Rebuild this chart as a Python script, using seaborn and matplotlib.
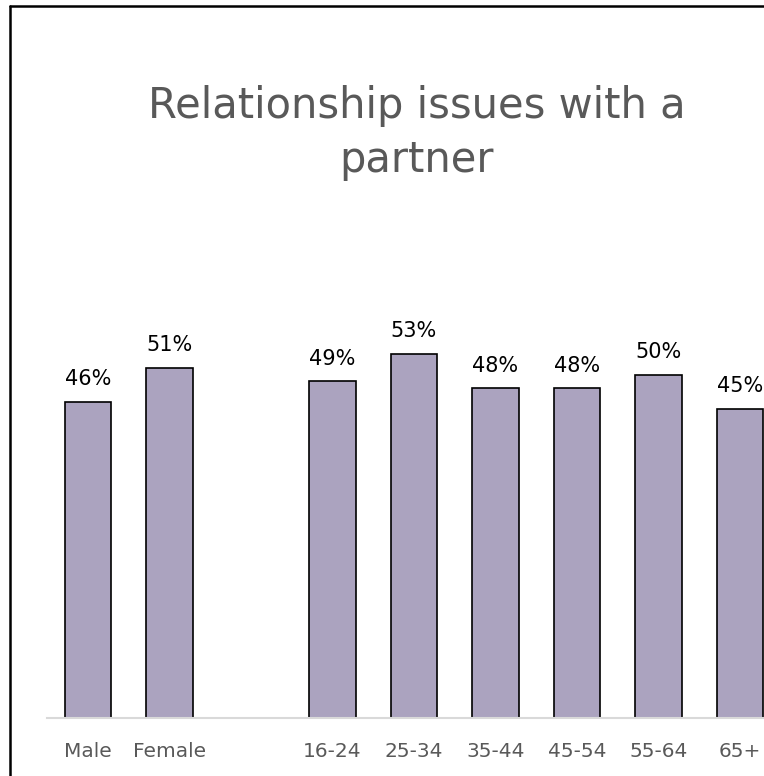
import matplotlib
matplotlib.use("Agg")
import matplotlib.pyplot as plt
from matplotlib.lines import Line2D
import seaborn as sns
import pandas as pd

# Share of respondents reporting relationship issues with a partner
groups = ["Male", "Female", "16-24", "25-34", "35-44", "45-54", "55-64", "65+"]
values = [46, 51, 49, 53, 48, 48, 50, 45]
# blank slot separates the gender bars from the age bars
order = ["Male", "Female", " ", "16-24", "25-34", "35-44", "45-54", "55-64", "65+"]

title = "Relationship issues with a\npartner"

bar_color = "#ABA3BF"
text_gray = "#595959"

sns.set_theme(style="white")
plt.rcParams["font.family"] = ["DejaVu Sans"]

W, H = 764, 776
fig = plt.figure(figsize=(W / 100, H / 100), dpi=100)

slot = 81.5
left_px = 88 - slot / 2
ax = fig.add_axes([left_px / W, (H - 718) / H, 9 * slot / W, 687 / H])

df = pd.DataFrame({"group": groups, "value": values})
sns.barplot(data=df, x="group", y="value", order=order, color=bar_color,
            saturation=1, width=0.565, edgecolor="black", linewidth=1.2, ax=ax)

ax.set_ylim(0, 100)
ax.set_xlim(-0.5, 8.5)
ax.set_xlabel("")
ax.set_ylabel("")
ax.set_yticks([])
for s in ["top", "right", "left"]:
    ax.spines[s].set_visible(False)
ax.spines["bottom"].set_color("#D9D9D9")
ax.spines["bottom"].set_linewidth(1.5)
ax.tick_params(axis="x", length=0, pad=17, labelsize=14.5, labelcolor=text_gray)

for container in ax.containers:
    ax.bar_label(container, labels=[f"{v:.0f}%" for v in container.datavalues],
                 padding=9, fontsize=15, color="black")

fig.text(417 / W, 1 - 133 / H, title, ha="center", va="center",
         fontsize=30, color=text_gray, linespacing=1.35)

# outer frame (top and left edges visible)
fig.add_artist(Line2D([10 / W, 1.02], [1 - 5.5 / H, 1 - 5.5 / H],
                      transform=fig.transFigure, color="black", lw=1.8))
fig.add_artist(Line2D([10 / W, 10 / W], [1 - 5.5 / H, -0.02],
                      transform=fig.transFigure, color="black", lw=1.8))

fig.savefig("out.png", dpi=100)
